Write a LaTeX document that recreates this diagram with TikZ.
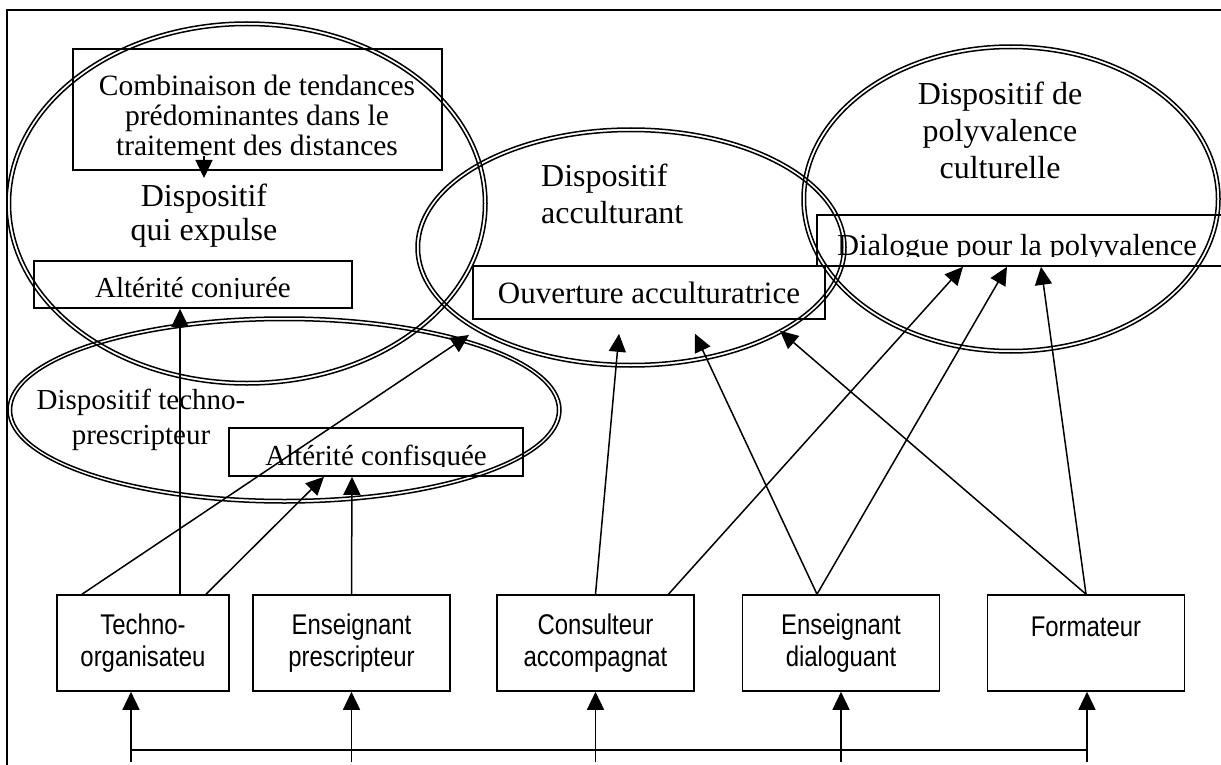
\documentclass[tikz,border=0pt]{standalone}
\usepackage{fontspec}
\setmainfont{Liberation Serif}
\newfontfamily\rolefont[FakeStretch=0.84]{Liberation Sans}
\usetikzlibrary{arrows.meta,shapes.geometric}

\begin{document}
\begin{tikzpicture}[x=1pt,y=-1pt,>={Triangle[length=18pt,width=17pt]},
  ring/.style={ellipse,draw,line width=1.5pt,inner sep=0pt},
  tagbox/.style={draw,line width=1.6pt,inner sep=0pt},
  role/.style={draw,line width=1.6pt,minimum width=197pt,minimum height=96pt,align=center,font=\rolefont\fontsize{28.5}{32}\selectfont},
  big/.style={inner sep=0pt,align=center,font=\fontsize{32}{37}\selectfont},
  mid/.style={inner sep=0pt,font=\fontsize{29.5}{30}\selectfont},
  link/.style={->,line width=1.5pt}]
\useasboundingbox (0,0) rectangle (1221,765);
\clip (0,0) rectangle (1221,765);
% page frame
\coordinate (fbl) at (7,765);
\coordinate (ftl) at (7,10);
\coordinate (ftr) at (1225,10);
\draw[line width=1.8pt] (fbl) -- (ftl) -- (ftr);

% double ellipses
\node[ring,minimum width=480pt,minimum height=363pt] (expulse) at (247,203.5) {};
\node[ring,minimum width=473pt,minimum height=356pt] (expulse-in) at (247,203.5) {};
\node[ring,minimum width=553pt,minimum height=186pt] (techno) at (284.5,410) {};
\node[ring,minimum width=546pt,minimum height=179pt] (techno-in) at (284.5,410) {};
\node[ring,minimum width=430pt,minimum height=239pt] (accult) at (631,247.5) {};
\node[ring,minimum width=423pt,minimum height=232pt] (accult-in) at (631,247.5) {};
\node[ring,minimum width=418pt,minimum height=308pt] (polyv) at (1011,199) {};
\node[ring,minimum width=411pt,minimum height=301pt] (polyv-in) at (1011,199) {};

% titles of the dispositifs
\node[big,font=\fontsize{32}{34}\selectfont] (expulset) at (204,216) {Dispositif\\qui expulse};
\node[big,align=left,anchor=west] (accultt) at (541,194) {Dispositif\\acculturant};
\node[big] (polyvt) at (1000,130) {Dispositif de\\polyvalence\\culturelle};
\node[big,font=\fontsize{29}{35}\selectfont] (technot) at (141,420) {Dispositif techno-\\prescripteur};

% text boxes
\node[tagbox,minimum width=369pt,minimum height=121pt] (combi) at (257.5,109.5) {};
\node[mid,align=center] (combit) at (257,115) {Combinaison de tendances\\prédominantes dans le\\traitement des distances};
\coordinate (combtail) at (204,156);
\coordinate (combtip) at (204,178);
\draw[link] (combtail) -- (combtip);

\node[tagbox,minimum width=318pt,minimum height=47pt] (conj) at (193,284.5) {};
\begin{scope}
\clip (34,261) rectangle (352,298);
\node[mid,anchor=base,font=\fontsize{29}{30}\selectfont] (conjt) at (193,297.5) {Altérité conjurée};
\end{scope}

\node[tagbox,minimum width=294pt,minimum height=48pt] (confis) at (376,452) {};
\begin{scope}
\clip (229,428) rectangle (523,466);
\node[mid,anchor=base,font=\fontsize{29}{30}\selectfont] (confist) at (376,465.5) {Altérité confisquée};
\end{scope}

\node[tagbox,minimum width=352pt,minimum height=53pt,font=\fontsize{31}{32}\selectfont] (ouvert) at (649,292.5) {Ouverture acculturatrice};

\node[tagbox,minimum width=408pt,minimum height=51pt] (dialog) at (1021,240.5) {};
\begin{scope}
\clip (817,215) rectangle (1225,256);
\node[mid,anchor=base,font=\fontsize{30.5}{31}\selectfont] (dialogt) at (1017,255.5) {Dialogue pour la polyvalence};
\end{scope}

% actors
\node[role,minimum width=172pt] (techorg) at (143,643) {Techno-\\organisateu};
\node[role] (enspres) at (351.5,643) {Enseignant\\prescripteur};
\node[role] (consult) at (595.5,643) {Consulteur\\accompagnat};
\node[role] (ensdial) at (841,643) {Enseignant\\dialoguant};
\node[role] (format) at (1086,643) {Formateur\\\mbox{}};

% links to the dispositifs
\coordinate (accA) at (469,335);
\draw[link] ([xshift=-61pt]techorg.north) -- (accA);
\draw[link] ([xshift=37pt]techorg.north) -- ([xshift=-13pt]conj.south);
\draw[link] ([xshift=63pt]techorg.north) -- ([xshift=-52pt]confis.south);
\draw[link] (enspres.north) -- ([xshift=-24pt]confis.south);
\draw[link] (consult.north) -- ([xshift=-30pt,yshift=-14pt]ouvert.south);
\draw[link] ([xshift=73pt]consult.north) -- ([xshift=-58pt]dialog.south);
\draw[link] ([xshift=-24pt]ensdial.north) -- ([xshift=46pt,yshift=-14pt]ouvert.south);
\draw[link] ([xshift=-24pt]ensdial.north) -- ([xshift=-14pt]dialog.south);
\draw[link] (format.north) -- ([xshift=131pt,yshift=-11pt]ouvert.south);
\draw[link] (format.north) -- ([xshift=20pt]dialog.south);

% common feed at the bottom
\coordinate (bus) at (0,750);
\coordinate (foot) at (0,762);
\coordinate (techorg-in) at ([xshift=-12pt]techorg.south);
\coordinate (enspres-in) at (enspres.south);
\coordinate (consult-in) at (consult.south);
\coordinate (ensdial-in) at (ensdial.south);
\coordinate (format-in) at ([xshift=1pt]format.south);
\draw[line width=2pt] (techorg-in |- bus) -- (format-in |- bus);
\draw[link] (techorg-in |- foot) -- (techorg-in);
\draw[link] (enspres-in |- foot) -- (enspres-in);
\draw[link] (consult-in |- foot) -- (consult-in);
\draw[link] (ensdial-in |- foot) -- (ensdial-in);
\draw[link] (format-in |- foot) -- (format-in);
\end{tikzpicture}
\end{document}
